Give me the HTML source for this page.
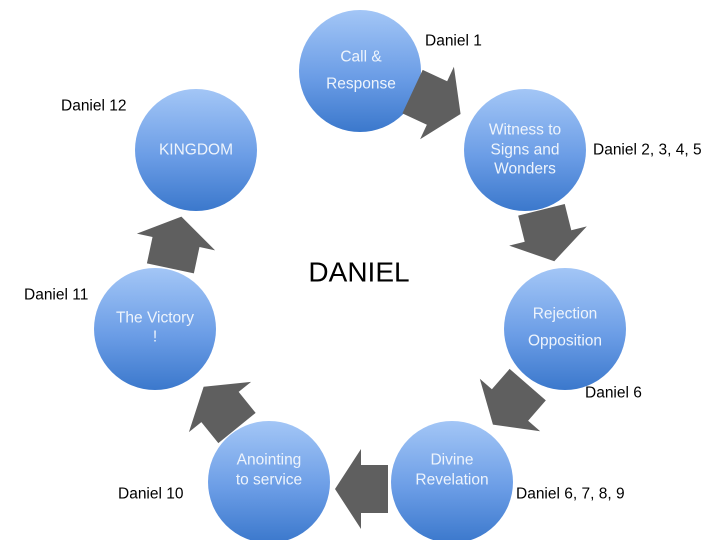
<!DOCTYPE html>
<html><head><meta charset="utf-8"><style>
html,body{margin:0;padding:0;background:#fff;}
svg{display:block;font-family:"Liberation Sans",sans-serif;}
.w{fill:#eef4fc;font-size:15.5px;text-anchor:middle;dominant-baseline:central;}
.b{fill:#000;font-size:15.5px;dominant-baseline:central;}
</style></head><body>
<svg width="720" height="540" viewBox="0 0 720 540" xmlns="http://www.w3.org/2000/svg">
<defs>
<linearGradient id="g" x1="0" y1="0" x2="0" y2="1">
<stop offset="0" stop-color="#a3c6f6"/>
<stop offset="0.55" stop-color="#6b9de6"/>
<stop offset="1" stop-color="#3b78cc"/>
</linearGradient>
<polygon id="ar" points="-27,-24 0,-24 0,-40 26,0 0,40 0,24 -27,24" fill="#5f5f5f"/>
</defs>
<circle cx="360" cy="71" r="61" fill="url(#g)"/>
<circle cx="525" cy="150" r="61" fill="url(#g)"/>
<circle cx="196" cy="150" r="61" fill="url(#g)"/>
<circle cx="155" cy="329" r="61" fill="url(#g)"/>
<circle cx="565" cy="329" r="61" fill="url(#g)"/>
<circle cx="269" cy="482" r="61" fill="url(#g)"/>
<circle cx="452" cy="482" r="61" fill="url(#g)"/>

<use href="#ar" transform="translate(437,103) rotate(25)"/>
<use href="#ar" transform="translate(548,236) rotate(76)"/>
<use href="#ar" transform="translate(510,405) rotate(131)"/>
<use href="#ar" transform="translate(361,489) rotate(180)"/>
<use href="#ar" transform="translate(220,407) rotate(-129)"/>
<use href="#ar" transform="translate(176,242) rotate(-78)"/>

<text class="w" x="361" y="57">Call &amp;</text>
<text class="w" x="361" y="84">Response</text>
<text class="w" x="196" y="150">KINGDOM</text>
<text class="w" x="525" y="130">Witness to</text>
<text class="w" x="525" y="150">Signs and</text>
<text class="w" x="525" y="169">Wonders</text>
<text class="w" x="155" y="318">The Victory</text>
<text class="w" x="155" y="337">!</text>
<text class="w" x="565" y="314">Rejection</text>
<text class="w" x="565" y="341">Opposition</text>
<text class="w" x="269" y="460">Anointing</text>
<text class="w" x="269" y="480">to service</text>
<text class="w" x="452" y="460">Divine</text>
<text class="w" x="452" y="480">Revelation</text>

<text class="b" x="425" y="41">Daniel 1</text>
<text class="b" x="61" y="106">Daniel 12</text>
<text class="b" x="593" y="150">Daniel 2, 3, 4, 5</text>
<text class="b" x="24" y="295">Daniel 11</text>
<text class="b" x="585" y="393">Daniel 6</text>
<text class="b" x="118" y="494">Daniel 10</text>
<text class="b" x="516" y="494">Daniel 6, 7, 8, 9</text>
<text x="359" y="272" style="font-size:28px;text-anchor:middle;dominant-baseline:central;fill:#000">DANIEL</text>
</svg>
</body></html>
